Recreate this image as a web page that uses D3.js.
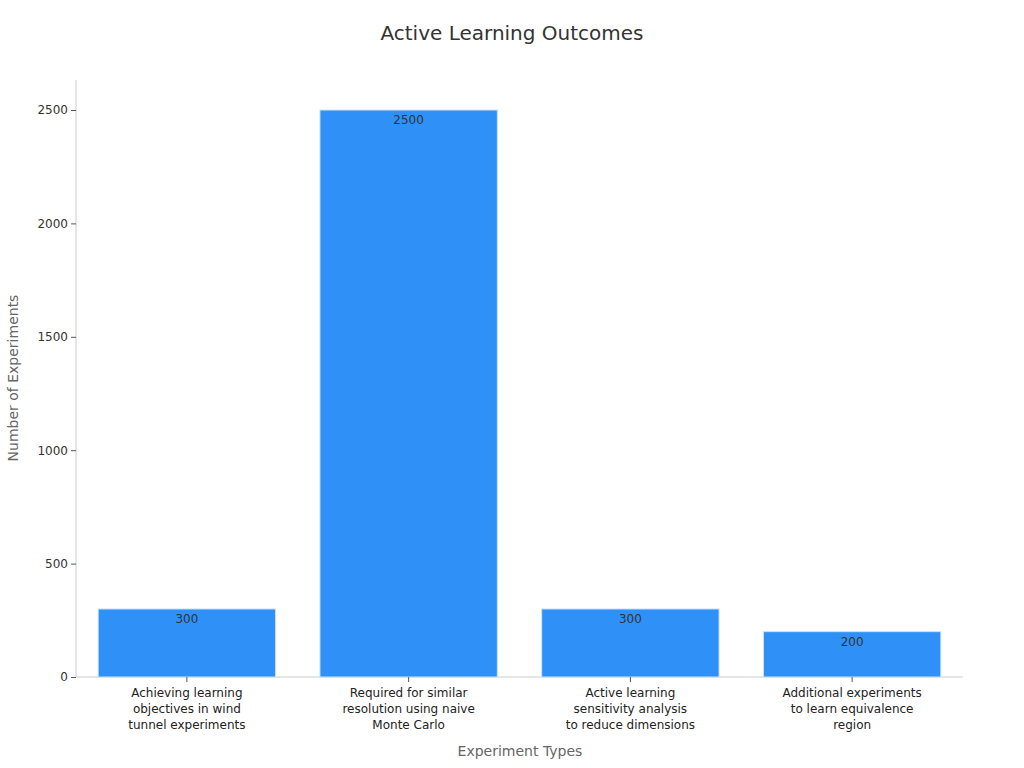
<!DOCTYPE html>
<html><head><meta charset="utf-8">
<script src="https://cdn.jsdelivr.net/npm/d3@7"></script>
<style>body{margin:0;background:#fff;font-family:"DejaVu Sans",sans-serif;}</style>
</head><body><svg id="c" width="1024" height="768"></svg>
<script>
const categories = [
  ["Achieving learning","objectives in wind","tunnel experiments"],
  ["Required for similar","resolution using naive","Monte Carlo"],
  ["Active learning","sensitivity analysis","to reduce dimensions"],
  ["Additional experiments","to learn equivalence","region"]
];
const values = [300, 2500, 300, 200];
const yTicks = [0, 500, 1000, 1500, 2000, 2500];

const svg = d3.select("#c");
const mLeft = 76, mRight = 963, mTop = 80, mBottom = 677;
const x = d3.scaleBand().domain(d3.range(values.length)).range([mLeft, mRight]).paddingInner(0.2).paddingOuter(0.1);
const y = d3.scaleLinear().domain([0, 2500]).range([mBottom, 110]);

svg.append("text").attr("x", 512).attr("y", 40).attr("text-anchor","middle")
  .attr("font-size", 20).attr("fill","#333").text("Active Learning Outcomes");

svg.append("line").attr("x1",mLeft).attr("x2",mLeft).attr("y1",mTop).attr("y2",mBottom).attr("stroke","#ccc");
svg.append("line").attr("x1",mLeft).attr("x2",mRight).attr("y1",mBottom).attr("y2",mBottom).attr("stroke","#ccc");

const ya = svg.append("g").attr("transform",`translate(${mLeft},0)`)
  .call(d3.axisLeft(y).tickValues(yTicks).tickSize(5).tickFormat(d3.format("d")));
ya.select(".domain").remove();
ya.selectAll("line").attr("stroke","#555");
ya.selectAll("text").attr("font-size",12).attr("fill","#333").attr("font-family","DejaVu Sans");

svg.selectAll("rect.bar").data(values).enter().append("rect")
  .attr("x",(d,i)=>x(i)).attr("width",x.bandwidth())
  .attr("y",d=>y(d)).attr("height",d=>mBottom-y(d))
  .attr("fill","#2f91f8").attr("stroke","#cfe3fb").attr("stroke-width",1);

svg.selectAll("text.val").data(values).enter().append("text")
  .attr("x",(d,i)=>x(i)+x.bandwidth()/2).attr("y",d=>y(d)+14)
  .attr("text-anchor","middle").attr("font-size",12).attr("fill","#333").text(d=>d);

categories.forEach((lines,i)=>{
  const cx = x(i)+x.bandwidth()/2;
  svg.append("line").attr("x1",cx).attr("x2",cx).attr("y1",mBottom).attr("y2",mBottom+5).attr("stroke","#555");
  const t = svg.append("text").attr("text-anchor","middle").attr("font-size",12).attr("fill","#222");
  lines.forEach((l,j)=>t.append("tspan").attr("x",cx).attr("y",697+j*16).text(l));
});

svg.append("text").attr("x",520).attr("y",756).attr("text-anchor","middle")
  .attr("font-size",14).attr("fill","#666").text("Experiment Types");
svg.append("text").attr("transform","translate(18,378) rotate(-90)").attr("text-anchor","middle")
  .attr("font-size",14).attr("fill","#666").text("Number of Experiments");
</script></body></html>
